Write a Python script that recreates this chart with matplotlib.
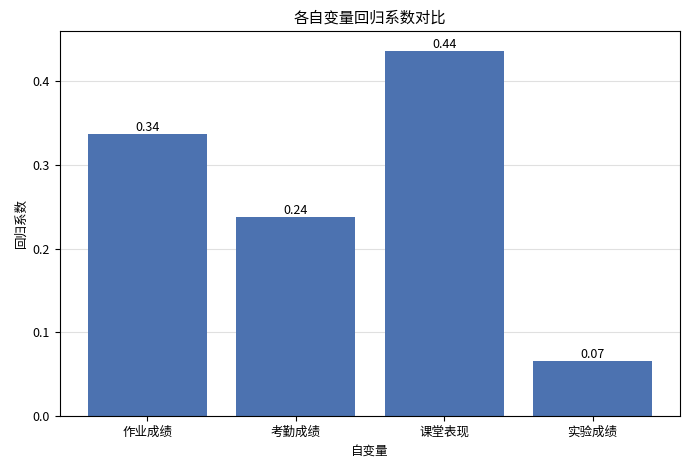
import matplotlib
matplotlib.use("Agg")
import matplotlib.pyplot as plt

plt.rcParams['font.family'] = ['Noto Sans CJK SC', 'DejaVu Sans']

variables = ['作业成绩', '考勤成绩', '课堂表现', '实验成绩']
coefs = [0.337, 0.238, 0.436, 0.066]

fig, ax = plt.subplots(figsize=(6.89, 4.68), dpi=100)
fig.subplots_adjust(left=0.087, right=0.987, top=0.934, bottom=0.111)

bars = ax.bar(variables, coefs, color='#4C72B0', width=0.8, zorder=2)
for b, v in zip(bars, coefs):
    ax.text(b.get_x() + b.get_width() / 2, v, '%.2f' % v,
            ha='center', va='bottom', fontsize=9)

ax.set_ylim(0, 0.46)
ax.set_yticks([0.0, 0.1, 0.2, 0.3, 0.4])
ax.grid(axis='y', color='#e0e0e0', linewidth=0.8, zorder=0)
ax.tick_params(labelsize=9)
ax.set_xlabel('自变量', fontsize=9)
ax.set_ylabel('回归系数', fontsize=9)
ax.set_title('各自变量回归系数对比', fontsize=11)

fig.savefig('out.png', dpi=100)
